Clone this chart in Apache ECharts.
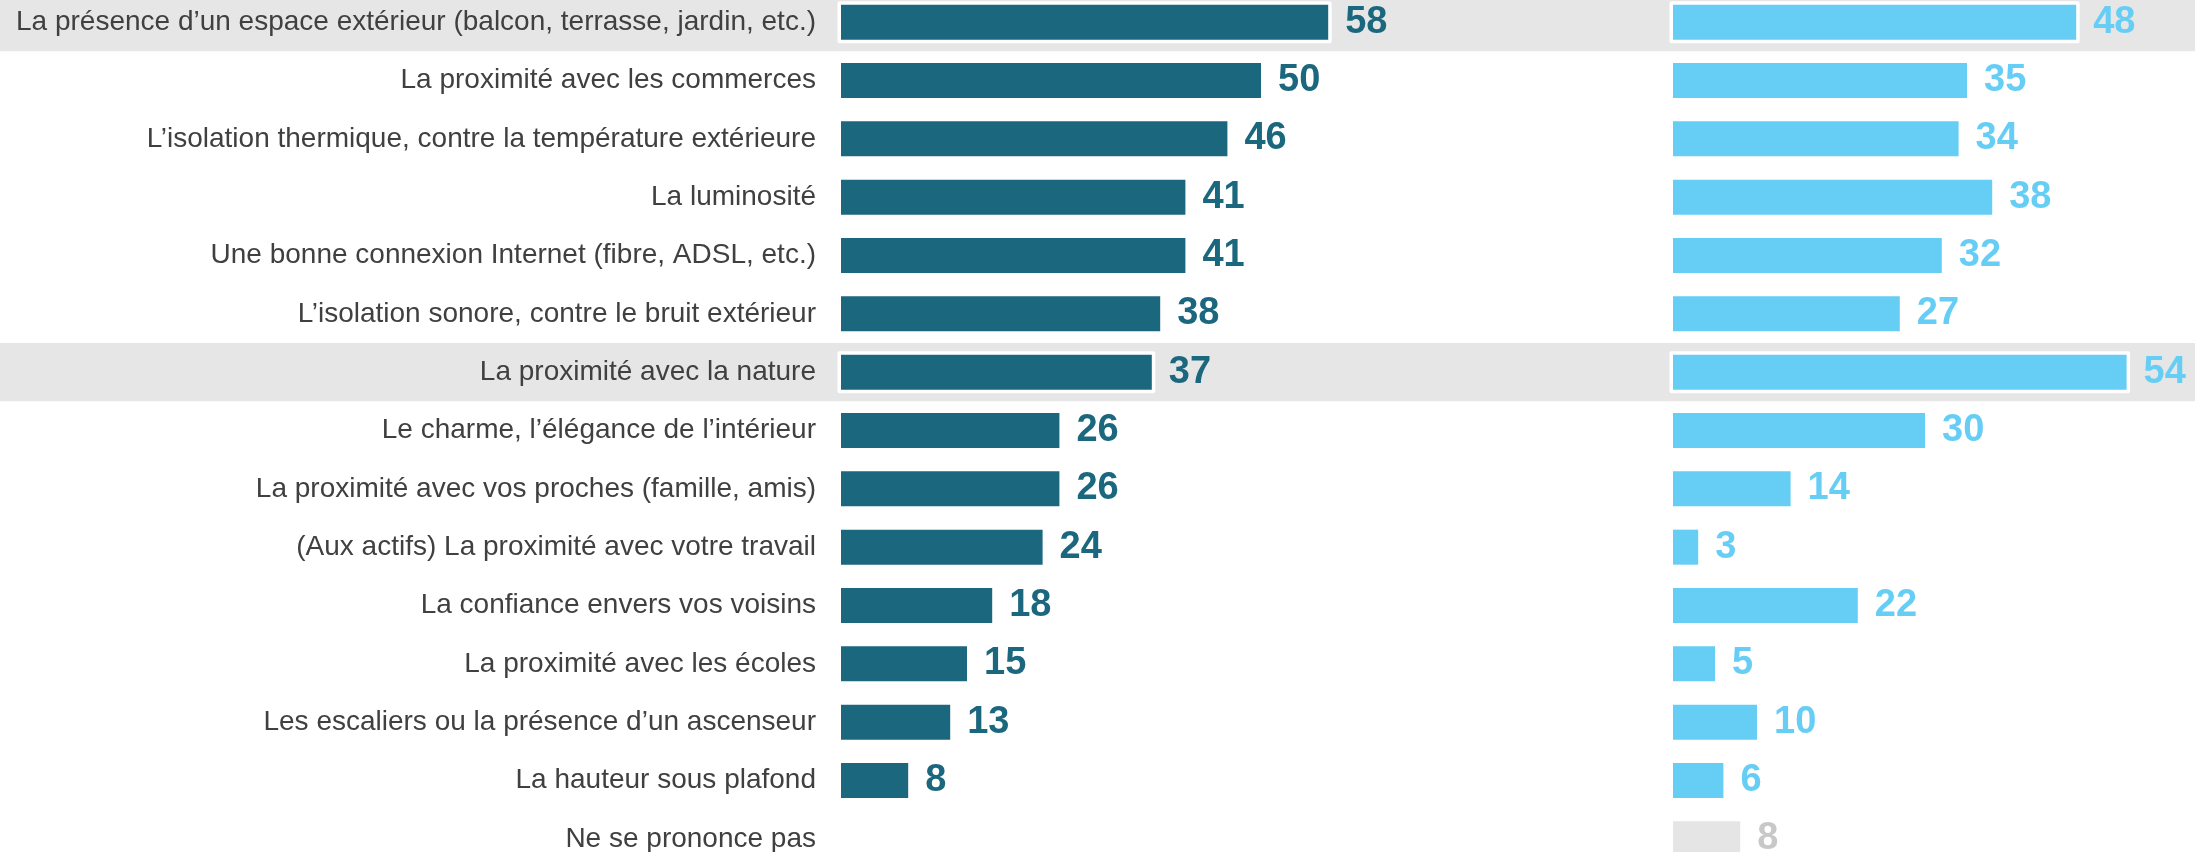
<!DOCTYPE html>
<html><head><meta charset="utf-8">
<script src="https://cdn.jsdelivr.net/npm/echarts@6/dist/echarts.min.js"></script>
<style>html,body{margin:0;padding:0;background:#fff}#c{width:2195px;height:852px}</style>
</head><body><div id="c"></div>
<script>
const categories = [
  "La présence d’un espace extérieur (balcon, terrasse, jardin, etc.)",
  "La proximité avec les commerces",
  "L’isolation thermique, contre la température extérieure",
  "La luminosité",
  "Une bonne connexion Internet (fibre, ADSL, etc.)",
  "L’isolation sonore, contre le bruit extérieur",
  "La proximité avec la nature",
  "Le charme, l’élégance de l’intérieur",
  "La proximité avec vos proches (famille, amis)",
  "(Aux actifs) La proximité avec votre travail",
  "La confiance envers vos voisins",
  "La proximité avec les écoles",
  "Les escaliers ou la présence d’un ascenseur",
  "La hauteur sous plafond",
  "Ne se prononce pas"
];
const leftValues  = [58, 50, 46, 41, 41, 38, 37, 26, 26, 24, 18, 15, 13, 8, null];
const rightValues = [48, 35, 34, 38, 32, 27, 54, 30, 14, 3, 22, 5, 10, 6, 8];
const highlightRows = [0, 6];
const noOpinionRow = 14;

const DARK = '#1b677e', LIGHT = '#66cef5', GREY_BAR = '#e5e5e5', GREY_TEXT = '#c8c8c8', BAND = '#e6e6e6';
const FONT = "'Liberation Sans', Arial, sans-serif";

const chart = echarts.init(document.getElementById('c'), null, {renderer: 'canvas'});

const GRID_TOP = -7, GRID_H = 875, UNIT_MAX = 60, GRID_W = 504, BAR_W = 35, PAD = 3.5;

function barData(vals, color) {
  return vals.map((v, i) => {
    if (v === null) return '-';
    const isNo = i === noOpinionRow;
    return {
      value: v,
      itemStyle: {color: isNo ? GREY_BAR : color},
      label: {color: isNo ? GREY_TEXT : color}
    };
  });
}
// white frame drawn behind the bars of the highlighted rows
function outlineData(vals) {
  return highlightRows.filter(i => vals[i] !== null).map(i => [vals[i], i]);
}

const bandData = categories.map((c, i) => highlightRows.includes(i) ? 1 : '-');

const catAxisBase = {
  type: 'category', data: categories, inverse: true,
  axisLine: {show: false}, axisTick: {show: false}, splitLine: {show: false}
};

const gridBase = {top: GRID_TOP, height: GRID_H, containLabel: false, outerBoundsMode: 'none'};

const valueLabel = {show: true, position: 'right', distance: 17, fontFamily: FONT, fontSize: 38, fontWeight: 'bold'};

function seriesFor(axisIdx, vals, color) {
  return [
    {
      type: 'custom', xAxisIndex: axisIdx, yAxisIndex: axisIdx, data: outlineData(vals),
      encode: {x: 0, y: 1}, z: 1, silent: true,
      renderItem: function (params, api) {
        const v = api.value(0), c = api.value(1);
        const p0 = api.coord([0, c]), p1 = api.coord([v, c]);
        const h = BAR_W + 2 * PAD;
        return {
          type: 'rect',
          shape: {x: p0[0] - PAD, y: p0[1] - h / 2, width: p1[0] - p0[0] + 2 * PAD, height: h, r: 2},
          style: {fill: '#ffffff'}
        };
      }
    },
    {
      type: 'bar', xAxisIndex: axisIdx, yAxisIndex: axisIdx, data: barData(vals, color),
      barWidth: BAR_W, z: 2,
      label: valueLabel
    }
  ];
}

const option = {
  animation: false,
  backgroundColor: '#ffffff',
  grid: [
    Object.assign({left: 0, right: 0}, gridBase),
    Object.assign({left: 841, width: GRID_W}, gridBase),
    Object.assign({left: 1673, width: GRID_W}, gridBase)
  ],
  xAxis: [
    {gridIndex: 0, type: 'value', min: 0, max: 1, show: false},
    {gridIndex: 1, type: 'value', min: 0, max: UNIT_MAX, show: false},
    {gridIndex: 2, type: 'value', min: 0, max: UNIT_MAX, show: false}
  ],
  yAxis: [
    Object.assign({gridIndex: 0, axisLabel: {show: false}}, catAxisBase),
    Object.assign({gridIndex: 1, axisLabel: {show: true, margin: 25, fontFamily: FONT, fontSize: 28, color: '#404040'}}, catAxisBase),
    Object.assign({gridIndex: 2, axisLabel: {show: false}}, catAxisBase)
  ],
  series: [
    {
      type: 'bar', xAxisIndex: 0, yAxisIndex: 0, data: bandData,
      barWidth: '100%', itemStyle: {color: BAND}, silent: true, z: 0
    }
  ].concat(seriesFor(1, leftValues, DARK), seriesFor(2, rightValues, LIGHT))
};
chart.setOption(option);
</script>
</body></html>
